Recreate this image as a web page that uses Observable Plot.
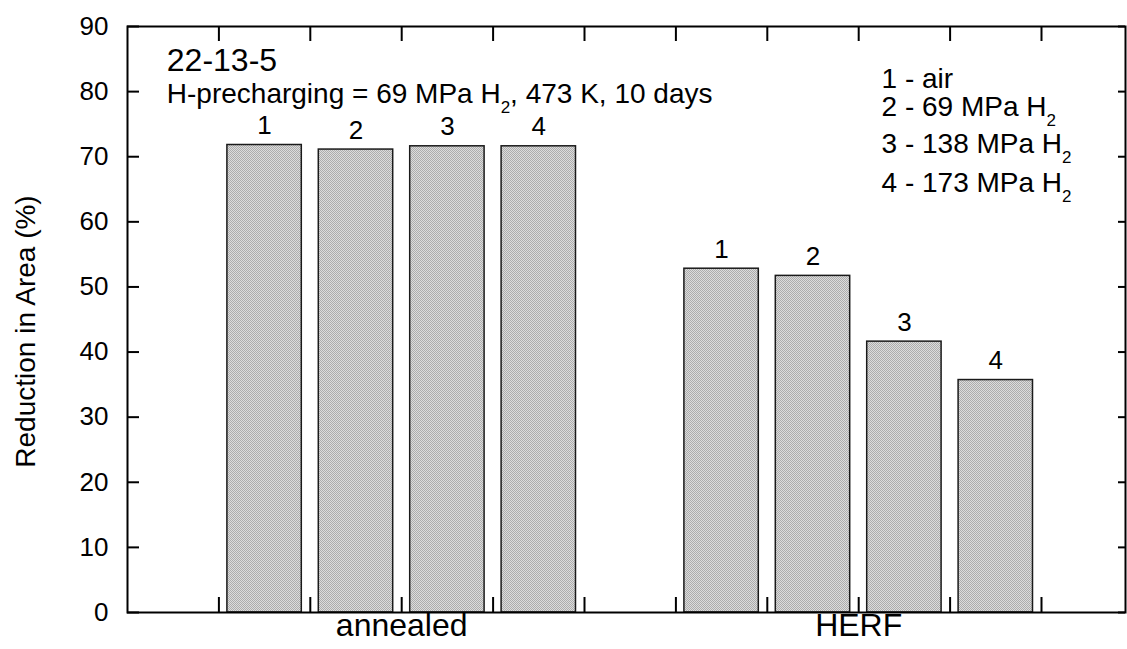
<!DOCTYPE html>
<html><head><meta charset="utf-8">
<script src="https://cdn.jsdelivr.net/npm/d3@7"></script>
<script src="https://cdn.jsdelivr.net/npm/@observablehq/plot@0.6"></script>
<style>html,body{margin:0;padding:0;background:#fff;}</style>
</head><body><div id="chart"></div>
<script>
// ---- data ----
const groups = ["annealed", "HERF"];
const specimens = ["1", "2", "3", "4"];
const environments = ["air", "69 MPa H_2", "138 MPa H_2", "173 MPa H_2"];
const annealedRA = [71.8, 71.1, 71.6, 71.6];
const herfRA = [52.8, 51.7, 41.6, 35.7];
const yTicks = [0, 10, 20, 30, 40, 50, 60, 70, 80, 90];
const xTicks = [1, 2, 3, 4, 5, 6, 7, 8, 9, 10];
const alloyLabel = "22-13-5";
const conditionLabel = "H-precharging = 69 MPa H_2, 473 K, 10 days";
const yLabel = "Reduction in Area (%)";

// ---- layout derived ----
const values = [annealedRA, herfRA];
const groupCenters = groups.map((g, i) => 3 + 5 * i);
const rows = groups.flatMap((g, gi) => specimens.map((s, si) => ({
  group: g, specimen: s, pos: groupCenters[gi] - 1.5 + si, value: values[gi][si]
})));
const legendLines = specimens.map((s, i) => `${s} - ${environments[i]}`);

const W = 1127, H = 649, mL = 127, mR = 2, mT = 26, mB = 37;
const innerW = W - mL - mR, innerH = H - mT - mB;
const half = 0.407;
const font = "'Liberation Sans', Arial, Helvetica, sans-serif";

const plot = Plot.plot({
  width: W, height: H,
  marginLeft: mL, marginRight: mR, marginTop: mT, marginBottom: mB,
  style: {fontFamily: font, fontSize: "25px", color: "black", background: "white", overflow: "visible"},
  x: {type: "linear", domain: [0, innerW / 91.4]},
  y: {domain: [0, 90]},
  marks: [
    Plot.rect(rows, {x1: d => d.pos - half, x2: d => d.pos + half, y1: 0, y2: "value",
      fill: "url(#stipple)", stroke: "#1a1a1a", strokeWidth: 1.5}),
    Plot.text(rows, {x: "pos", y: "value", text: "specimen", dy: -11, lineAnchor: "bottom", fontSize: 26}),
    Plot.tickX(xTicks, {x: d => d, insetTop: innerH - 15, stroke: "black", strokeWidth: 2}),
    Plot.tickX(xTicks, {x: d => d, insetBottom: innerH - 15, stroke: "black", strokeWidth: 2}),
    Plot.tickY(yTicks, {y: d => d, insetRight: innerW - 12, stroke: "black", strokeWidth: 2}),
    Plot.tickY(yTicks, {y: d => d, insetLeft: innerW - 7, stroke: "black", strokeWidth: 2}),
    Plot.frame({stroke: "black", strokeWidth: 2}),
    Plot.axisY({ticks: yTicks, tickSize: 0, tickPadding: 19, fontSize: 26, label: null}),
    Plot.axisX({ticks: groupCenters, tickFormat: d => groups[groupCenters.indexOf(d)], tickSize: 0, tickPadding: 1, fontSize: 32, label: null}),
    Plot.text([yLabel], {frameAnchor: "left", dx: -101, dy: 12, rotate: -90, textAnchor: "middle", fontSize: 28}),
    Plot.text([alloyLabel], {x: 0.43, y: 83.2, textAnchor: "start", lineAnchor: "bottom", fontSize: 32}),
    Plot.text([conditionLabel], {x: 0.43, y: 78.3, textAnchor: "start", lineAnchor: "bottom", fontSize: 28}),
    Plot.text(legendLines, {x: 8.25, y: (d, i) => [80.6, 76.3, 70.5, 64.6][i], textAnchor: "start", lineAnchor: "bottom", fontSize: 28})
  ]
});

// pattern fill for bars
const ns = "http://www.w3.org/2000/svg";
const defs = document.createElementNS(ns, "defs");
defs.innerHTML = `<pattern id="stipple" patternUnits="userSpaceOnUse" width="2" height="2">
<rect width="2" height="2" fill="#dcdcdc"/><rect width="1" height="1" fill="#acacac"/><rect x="1" y="1" width="1" height="1" fill="#acacac"/></pattern>`;
plot.insertBefore(defs, plot.firstChild);

// subscripts
plot.querySelectorAll("text").forEach(t => {
  if (t.querySelector("tspan")) return;
  const s = t.textContent;
  if (!s.includes("_2")) return;
  const parts = s.split("_2");
  t.textContent = "";
  parts.forEach((p, i) => {
    if (i > 0) {
      const sub = document.createElementNS(ns, "tspan");
      sub.setAttribute("dy", "10"); sub.setAttribute("font-size", "17"); sub.textContent = "2";
      t.appendChild(sub);
    }
    const n = document.createElementNS(ns, "tspan");
    if (i > 0) n.setAttribute("dy", "-10");
    n.textContent = p;
    t.appendChild(n);
  });
});

document.getElementById("chart").appendChild(plot);
</script>
</body></html>
